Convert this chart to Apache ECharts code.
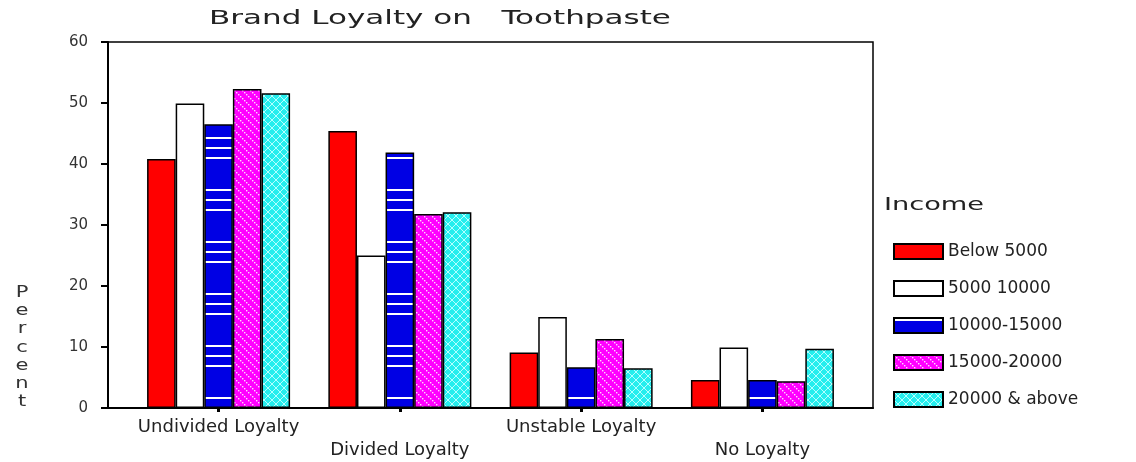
<!DOCTYPE html>
<html>
<head>
<meta charset="utf-8">
<title>Brand Loyalty on Toothpaste</title>
<script src="https://cdn.jsdelivr.net/npm/echarts@6/dist/echarts.min.js"></script>
<style>
  html, body { margin: 0; padding: 0; background: #fff; }
  #chart { width: 1136px; height: 462px; }
</style>
</head>
<body>
<div id="chart"></div>
<script>
// values (percent)
const categories = ['Undivided Loyalty', 'Divided Loyalty', 'Unstable Loyalty', 'No Loyalty']
const incomeGroups = ['Below 5000', '5000 10000', '10000-15000', '15000-20000', '20000 & above']
const below5000 = [40.8, 45.4, 9.1, 4.6]
const from5000 = [49.9, 25.0, 14.9, 9.9]
const from10000 = [46.5, 41.9, 6.7, 4.6]
const from15000 = [52.3, 31.8, 11.3, 4.4]
const above20000 = [51.6, 32.1, 6.5, 9.7]
const categoryPositions = [0, 1, 2, 3]
const titleText = 'Brand Loyalty on   Toothpaste'
const yName = 'Percent'
const legendTitle = 'Income'

// little canvas fills to imitate the old hatched bars
function pattern(w, h, draw) {
  const c = document.createElement('canvas')
  c.width = w
  c.height = h
  draw(c.getContext('2d'), w, h)
  return { image: c, repeat: 'repeat' }
}

const blueStripes = pattern(8, 52, (ctx, w, h) => {
  ctx.fillStyle = '#0000e4'
  ctx.fillRect(0, 0, w, h)
  ctx.fillStyle = '#ffffff'
  ;[1, 33, 43].forEach(y => ctx.fillRect(0, y, w, 2))
})

const pinkDots = pattern(8, 8, (ctx, w, h) => {
  ctx.fillStyle = '#ff00ff'
  ctx.fillRect(0, 0, w, h)
  ctx.fillStyle = '#ffd6ff'
  for (let i = 0; i < 8; i += 2) ctx.fillRect(i, i, 1.4, 1.4)
})

const cyanHatch = pattern(8, 8, (ctx, w, h) => {
  ctx.fillStyle = '#25eeee'
  ctx.fillRect(0, 0, w, h)
  ctx.strokeStyle = '#b4ffff'
  ctx.lineWidth = 1
  ctx.beginPath()
  ctx.moveTo(0, 0); ctx.lineTo(w, h)
  ctx.moveTo(w, 0); ctx.lineTo(0, h)
  ctx.stroke()
})

const fills = ['#ff0000', '#ffffff', blueStripes, pinkDots, cyanHatch]
const seriesValues = [below5000, from5000, from10000, from15000, above20000]

const chart = echarts.init(document.getElementById('chart'))
const font = '"DejaVu Sans", Verdana, sans-serif'

chart.setOption({
  animation: false,
  backgroundColor: '#fff',
  grid: {
    left: 108,
    right: 263,
    top: 42,
    bottom: 48,
    show: true,
    borderColor: '#000',
    borderWidth: 1.5
  },
  legend: {
    data: incomeGroups,
    orient: 'vertical',
    left: 893,
    top: 243,
    padding: 0,
    itemWidth: 49,
    itemHeight: 15,
    itemGap: 20,
    icon: 'rect',
    selectedMode: false,
    textStyle: { fontFamily: font, fontSize: 17, color: '#222', lineHeight: 15 }
  },
  xAxis: {
    type: 'value',
    min: -0.61,
    max: 3.61,
    splitLine: { show: false },
    axisLine: { onZero: false, lineStyle: { color: '#000', width: 2 } },
    axisTick: { customValues: categoryPositions, length: 4, lineStyle: { color: '#000', width: 3 } },
    axisLabel: {
      customValues: categoryPositions,
      formatter: v => (v % 2 ? '\n' : '') + categories[v],
      margin: 8,
      fontFamily: font,
      fontSize: 18,
      lineHeight: 23,
      color: '#222'
    }
  },
  yAxis: {
    type: 'value',
    min: 0,
    max: 60,
    interval: 10,
    splitLine: { show: false },
    axisLine: { show: true, onZero: false, lineStyle: { color: '#000', width: 2 } },
    axisTick: { show: true, length: 7, lineStyle: { color: '#000', width: 2 } },
    axisLabel: { margin: 20, fontFamily: font, fontSize: 15, color: '#333' }
  },
  graphic: [
    {
      type: 'text', x: 440, y: 19, scaleX: 1.55,
      style: { text: titleText, font: '20px ' + font, fill: '#222', align: 'center', verticalAlign: 'middle' }
    },
    {
      type: 'text', x: 22, y: 284, scaleX: 1.4,
      style: { text: yName.split('').join('\n'), font: '15px ' + font, lineHeight: 18.2, fill: '#333', align: 'center', verticalAlign: 'top' }
    },
    {
      type: 'text', x: 884, y: 206, scaleX: 1.6,
      style: { text: legendTitle, font: '17px ' + font, fill: '#222', align: 'left', verticalAlign: 'middle' }
    }
  ],
  series: incomeGroups.map((name, k) => ({
    name,
    type: 'bar',
    barWidth: 28.6,
    barGap: '0%',
    data: seriesValues[k].map((v, i) => [categoryPositions[i], v]),
    itemStyle: { color: fills[k], borderColor: '#000', borderWidth: 1.5 }
  }))
})
</script>
</body>
</html>
